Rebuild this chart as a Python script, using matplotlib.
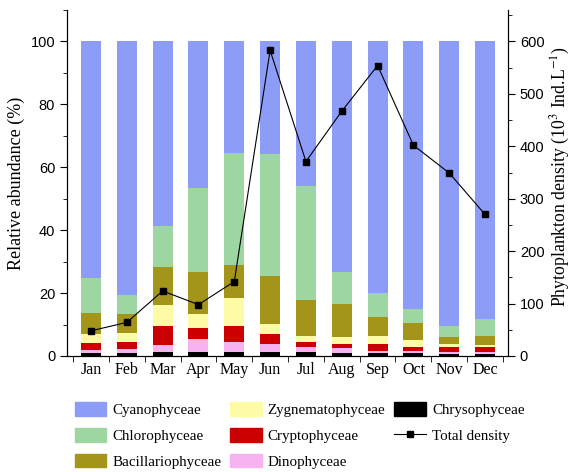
import numpy as np
import matplotlib.pyplot as plt
from matplotlib.patches import Patch
from matplotlib.lines import Line2D
from matplotlib.ticker import MultipleLocator

plt.rcParams['mathtext.fontset'] = 'stix'

months = ['Jan', 'Feb', 'Mar', 'Apr', 'May', 'Jun', 'Jul', 'Aug', 'Sep', 'Oct', 'Nov', 'Dec']

# relative abundance (%) per group, stacked from the bottom up
chryso = [1.0, 0.9, 1.3, 1.3, 1.3, 1.4, 1.4, 0.8, 1.0, 0.8, 0.5, 0.5]
dino = [1.0, 1.3, 2.2, 4.0, 3.1, 2.3, 1.6, 1.8, 0.7, 0.9, 0.9, 0.9]
crypto = [2.0, 2.1, 6.0, 3.7, 5.0, 3.4, 1.6, 1.2, 2.0, 1.3, 1.6, 1.6]
zygne = [2.9, 2.9, 6.8, 4.3, 9.0, 3.0, 1.7, 2.1, 2.7, 2.1, 0.8, 0.5]
bacil = [6.8, 6.1, 12.1, 13.5, 10.4, 15.4, 11.4, 10.5, 6.1, 5.3, 2.3, 2.8]
chloro = [11.0, 6.1, 12.9, 26.6, 35.7, 38.7, 36.3, 10.3, 7.4, 4.6, 3.5, 5.3]
cyano = [75.3, 80.6, 58.7, 46.6, 35.5, 35.8, 46.0, 73.3, 80.1, 85.0, 90.4, 88.4]

# total density (10^3 ind/L)
density = [48, 64, 124, 98, 142, 583, 371, 467, 554, 402, 349, 270]

serif = 'Liberation Serif'
sans = 'Liberation Sans'

fig = plt.figure(figsize=(5.74, 4.72), dpi=100)
ax = fig.add_axes([0.1167, 0.2458, 0.7683, 0.7330])

groups = [
    ('Chrysophyceae', chryso, '#000000'),
    ('Dinophyceae', dino, '#f7b3ef'),
    ('Cryptophyceae', crypto, '#cc0000'),
    ('Zygnematophyceae', zygne, '#fdfba6'),
    ('Bacillariophyceae', bacil, '#a3941a'),
    ('Chlorophyceae', chloro, '#9dd6a1'),
    ('Cyanophyceae', cyano, '#8c9cf7'),
]

x = np.arange(len(months))
bottom = np.zeros(len(months))
for name, vals, col in groups:
    ax.bar(x, vals, width=0.56, bottom=bottom, color=col, label=name, zorder=2)
    bottom += np.array(vals)

ax.set_xlim(-0.67, 11.64)
ax.set_ylim(0, 110)
ax.set_xticks(x)
ax.set_xticklabels(months, fontfamily=serif, fontsize=11.5)
ax.set_xticks(np.arange(-0.5, 11.6, 1), minor=True)
ax.tick_params(axis='x', which='major', length=0, pad=4)
ax.tick_params(axis='x', which='minor', length=4, direction='out')
ax.set_yticks([0, 20, 40, 60, 80, 100])
ax.yaxis.set_minor_locator(MultipleLocator(10))
ax.tick_params(axis='y', which='major', length=5, direction='out', labelsize=10.5)
ax.tick_params(axis='y', which='minor', length=3, direction='out')
for lab in ax.get_yticklabels():
    lab.set_fontfamily(sans)
ax.set_ylabel('Relative abundance (%)', fontfamily=serif, fontsize=13, labelpad=4)
ax.spines['top'].set_visible(False)

ax2 = ax.twinx()
ax2.plot(x, density, color='black', lw=0.8, marker='s', markersize=5, zorder=3)
ax2.set_ylim(0, 660)
ax2.set_yticks([0, 100, 200, 300, 400, 500, 600])
ax2.yaxis.set_minor_locator(MultipleLocator(50))
ax2.tick_params(axis='y', which='major', length=5, direction='out', labelsize=10.5)
ax2.tick_params(axis='y', which='minor', length=3, direction='out')
for lab in ax2.get_yticklabels():
    lab.set_fontfamily(sans)
ax2.set_ylabel('Phytoplankton density (10$^{3}$ Ind.L$^{-1}$)', fontfamily=serif,
               fontsize=12.8)
ax2.yaxis.set_label_coords(1.093, 0.52)
ax2.spines['top'].set_visible(False)

colors = {n: c for n, _, c in groups}
handles = [
    Patch(color=colors['Cyanophyceae'], label='Cyanophyceae'),
    Patch(color=colors['Chlorophyceae'], label='Chlorophyceae'),
    Patch(color=colors['Bacillariophyceae'], label='Bacillariophyceae'),
    Patch(color=colors['Zygnematophyceae'], label='Zygnematophyceae'),
    Patch(color=colors['Cryptophyceae'], label='Cryptophyceae'),
    Patch(color=colors['Dinophyceae'], label='Dinophyceae'),
    Patch(color=colors['Chrysophyceae'], label='Chrysophyceae'),
    Line2D([], [], color='black', lw=0.8, marker='s', markersize=4, label='Total density'),
]
fig.legend(handles=handles, ncol=3, loc='upper left', bbox_to_anchor=(0.13, 0.148),
           frameon=False, prop={'family': serif, 'size': 10.8}, handlelength=2.1,
           handleheight=1.0, columnspacing=0.6, labelspacing=0.74, handletextpad=0.4,
           borderaxespad=0, borderpad=0)

fig.savefig('out.png', dpi=100)
